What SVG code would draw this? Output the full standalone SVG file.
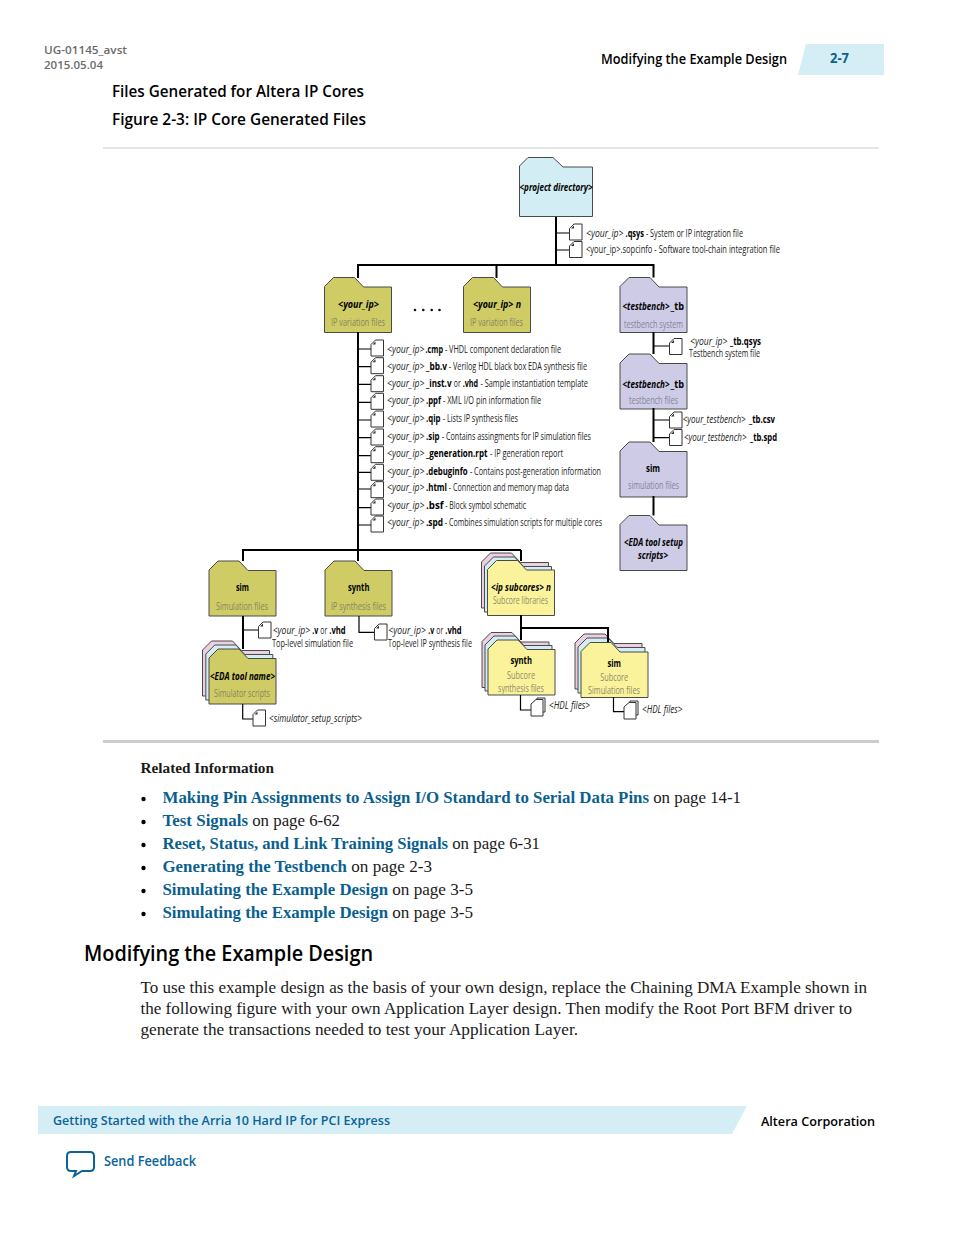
<svg xmlns="http://www.w3.org/2000/svg" xmlns:xlink="http://www.w3.org/1999/xlink" width="954" height="1235" viewBox="0 0 954 1235">
<style>
text{font-family:"Open Sans","Noto Sans",sans-serif;fill:#111;white-space:pre}
.s{font-family:"Liberation Serif","Times New Roman",serif;font-size:16px;fill:#1a1a1a}
.lk{fill:#0a5f8f;font-weight:700}
.h{font-weight:600;font-size:15px;fill:#000}
.d{font-size:10px;fill:#222}
.i{font-style:italic}
.b{font-weight:700;fill:#000}
.n{font-size:10.500px;font-weight:700;fill:#000;text-anchor:middle}
.g{font-size:10px;text-anchor:middle}
.p{fill:#85849c}
.y{fill:#86855f}
.w{fill:#8e8c66}
.fo{stroke:#4a4a4a;stroke-width:1}
.ol{fill:#cfcc66}
.pu{fill:#cdcbe5}
.lb{fill:#d3edf4}
.ye{fill:#fbf39c}
.pk{fill:#eccfe0}
.file{fill:#fff;stroke:#333;stroke-width:1}
.c1{fill:none;stroke:#000;stroke-width:2}
.c2{fill:none;stroke:#000;stroke-width:1.200}
</style>
<defs>
<path id="f" d="M0,9 L9,0 H30 L39,9.500 H67 V55 H0Z"/>
<g id="doc"><path class="file" d="M4.500,0 H12.500 V16 H0 V4.500Z"/><path d="M1.500,4.500 L4.500,1.500 V4.500Z" fill="#333"/></g>
<g id="docs"><path class="file" d="M6,0 H14 V14 H6Z"/><path class="file" d="M5,1.500 H12 V18 H0 V6Z"/></g>
</defs>
<g id="page-header">
<text x="44" y="54" style="font-size:11px;font-weight:600;fill:#6b6b6b" textLength="83" lengthAdjust="spacingAndGlyphs">UG-01145_avst</text>
<text x="44" y="69" style="font-size:11px;font-weight:600;fill:#6b6b6b" textLength="59" lengthAdjust="spacingAndGlyphs">2015.05.04</text>
<text x="601" y="64" class="h" style="font-size:13.500px" textLength="186" lengthAdjust="spacingAndGlyphs">Modifying the Example Design</text>
<polygon points="798,75 806,44 884,44 884,75" fill="#d5edf5"/>
<text x="830" y="63" style="font-size:13.500px;font-weight:700;fill:#0a5f8f" textLength="19" lengthAdjust="spacingAndGlyphs">2-7</text>
<text x="112" y="97" class="h" style="font-size:16.500px" textLength="252" lengthAdjust="spacingAndGlyphs">Files Generated for Altera IP Cores</text>
<text x="112" y="125" class="h" style="font-size:16.500px" textLength="254" lengthAdjust="spacingAndGlyphs">Figure 2-3: IP Core Generated Files</text>
<rect x="103" y="147.500" width="776" height="1" fill="#ccc"/>
<rect x="103" y="740" width="776" height="3" fill="#ccc"/>
</g>
<g id="n-project"><path class="lb fo" d="M519.500,166 L528,157.500 H553 L563,167 H592.500 V216.500 H519.500Z"/>
<text class="n i" x="556" y="191" textLength="73" lengthAdjust="spacingAndGlyphs">&lt;project directory&gt;</text></g>
<g id="n-your-ip"><use href="#f" x="324.500" y="277.500" class="ol fo"/>
<text class="n i" x="358.500" y="308" textLength="41" lengthAdjust="spacingAndGlyphs">&lt;your_ip&gt;</text>
<text class="g y" x="358" y="326" textLength="54" lengthAdjust="spacingAndGlyphs">IP variation files</text></g>
<g id="n-your-ip-n"><use href="#f" x="463.500" y="277.500" class="ol fo"/>
<text class="n i" x="497" y="308" textLength="48" lengthAdjust="spacingAndGlyphs">&lt;your_ip&gt; n</text>
<text class="g y" x="496.500" y="326" textLength="53" lengthAdjust="spacingAndGlyphs">IP variation files</text></g>
<g id="dots" fill="#111"><circle cx="415" cy="310" r="1.300"/><circle cx="423.300" cy="310" r="1.300"/><circle cx="431.700" cy="310" r="1.300"/><circle cx="439.500" cy="310" r="1.300"/></g>
<g id="n-tb-system"><use href="#f" x="620" y="277.500" class="pu fo"/>
<text class="n" style="text-anchor:start" y="310"><tspan class="i" x="622.500" textLength="47" lengthAdjust="spacingAndGlyphs">&lt;testbench&gt;</tspan><tspan x="670.500" textLength="13.500" lengthAdjust="spacingAndGlyphs">_tb</tspan></text>
<text class="g p" x="653.500" y="328" textLength="59" lengthAdjust="spacingAndGlyphs">testbench system</text></g>
<g id="n-tb-files"><use href="#f" x="620" y="354" class="pu fo"/>
<text class="n" style="text-anchor:start" y="388"><tspan class="i" x="622.500" textLength="47" lengthAdjust="spacingAndGlyphs">&lt;testbench&gt;</tspan><tspan x="670.500" textLength="13.500" lengthAdjust="spacingAndGlyphs">_tb</tspan></text>
<text class="g p" x="653.500" y="404" textLength="49" lengthAdjust="spacingAndGlyphs">testbench files</text></g>
<g id="n-tb-sim"><use href="#f" x="620" y="442" class="pu fo"/>
<text class="n" x="653" y="472" textLength="14" lengthAdjust="spacingAndGlyphs">sim</text>
<text class="g p" x="653.500" y="489" textLength="51" lengthAdjust="spacingAndGlyphs">simulation files</text></g>
<g id="n-tb-eda"><use href="#f" x="620" y="515.500" class="pu fo"/>
<text class="n i" x="653.500" y="546" textLength="59" lengthAdjust="spacingAndGlyphs">&lt;EDA tool setup</text>
<text class="n i" x="653" y="559" textLength="30" lengthAdjust="spacingAndGlyphs">scripts&gt;</text></g>
<g id="n-sim"><use href="#f" x="209" y="561" class="ol fo"/>
<text class="n" x="242.500" y="591" textLength="13" lengthAdjust="spacingAndGlyphs">sim</text>
<text class="g y" x="242" y="610" textLength="52" lengthAdjust="spacingAndGlyphs">Simulation files</text></g>
<g id="n-synth"><use href="#f" x="325" y="561" class="ol fo"/>
<text class="n" x="358.700" y="591" textLength="21.500" lengthAdjust="spacingAndGlyphs">synth</text>
<text class="g y" x="358.500" y="610" textLength="55" lengthAdjust="spacingAndGlyphs">IP synthesis files</text></g>
<g id="n-eda-name"><use href="#f" x="202.500" y="641" class="pk fo"/><use href="#f" x="205.800" y="645" class="lb fo"/><use href="#f" x="209" y="649" class="ol fo"/>
<text class="n i" x="242.500" y="680" textLength="65" lengthAdjust="spacingAndGlyphs">&lt;EDA tool name&gt;</text>
<text class="g y" x="242" y="697" textLength="56" lengthAdjust="spacingAndGlyphs">Simulator scripts</text></g>
<g id="n-subcores"><use href="#f" x="481.500" y="553" class="pk fo"/><use href="#f" x="484.500" y="557" class="lb fo"/><use href="#f" x="487.500" y="560.500" class="ye fo"/>
<text class="n i" x="521" y="591" textLength="60" lengthAdjust="spacingAndGlyphs">&lt;ip subcores&gt; n</text>
<text class="g w" x="520.500" y="604" textLength="55" lengthAdjust="spacingAndGlyphs">Subcore libraries</text></g>
<g id="n-sub-synth"><use href="#f" x="482" y="632.500" class="pk fo"/><use href="#f" x="485" y="636" class="lb fo"/><use href="#f" x="488" y="640" class="ye fo"/>
<text class="n" x="521.200" y="664" textLength="21.500" lengthAdjust="spacingAndGlyphs">synth</text>
<text class="g w" x="521" y="679" textLength="28" lengthAdjust="spacingAndGlyphs">Subcore</text>
<text class="g w" x="521" y="692" textLength="46" lengthAdjust="spacingAndGlyphs">synthesis files</text></g>
<g id="n-sub-sim"><use href="#f" x="575" y="634" class="pk fo"/><use href="#f" x="578" y="638" class="lb fo"/><use href="#f" x="581" y="642.500" class="ye fo"/>
<text class="n" x="614.200" y="667" textLength="13.500" lengthAdjust="spacingAndGlyphs">sim</text>
<text class="g w" x="614.200" y="681" textLength="28" lengthAdjust="spacingAndGlyphs">Subcore</text>
<text class="g w" x="614" y="694" textLength="52" lengthAdjust="spacingAndGlyphs">Simulation files</text></g>
<g id="connectors">
<path class="c1" d="M556,217V265M358,278V265H653.500V277.500M496.500,265V278M653.500,332V354M653.500,408V442M653.500,496V515.500"/>
<path class="c1" d="M358,332V561M243,561V550H521M243,616V649M521,550V561M521,615V640M521,628H608V642"/>
<path class="c2" d="M556,233H570M556,250H570M653,346H669M653,420H669.500M653,437.700H669.500"/>
<path class="c2" d="M358,349H371M358,366.700H371M358,384.300H371M358,402.300H371M358,420H371M358,437.700H371M358,455.700H371M358,472.300H371M358,489H371M358,507.700H371M358,525H371"/>
<path class="c2" d="M243,630H258.500M359,616V632.300H374.500M242.700,704V719H253M520.500,695V710H531M613.500,697V711.700H624"/>
</g>
<g id="files">
<use href="#doc" x="569.500" y="224"/><use href="#doc" x="569.500" y="241.500"/>
<use href="#doc" x="669.500" y="338.500"/><use href="#doc" x="669.500" y="412"/><use href="#doc" x="669.500" y="429.500"/>
<use href="#doc" x="371" y="340"/><use href="#doc" x="371" y="357.700"/><use href="#doc" x="371" y="375.700"/><use href="#doc" x="371" y="393.300"/><use href="#doc" x="371" y="411"/><use href="#doc" x="371" y="429"/><use href="#doc" x="371" y="446.700"/><use href="#doc" x="371" y="464.300"/><use href="#doc" x="371" y="481.700"/><use href="#doc" x="371" y="499"/><use href="#doc" x="371" y="516"/>
<use href="#doc" x="258.500" y="622"/><use href="#doc" x="374.500" y="624"/><use href="#doc" x="253" y="710"/>
<use href="#docs" x="531" y="698"/><use href="#docs" x="624" y="701"/>
</g>
<g id="file-labels">
<text class="d" y="237"><tspan class="i" x="586" textLength="37.500" lengthAdjust="spacingAndGlyphs">&lt;your_ip&gt;</tspan><tspan class="b" x="625.500" textLength="18.500" lengthAdjust="spacingAndGlyphs">.qsys</tspan><tspan x="644" textLength="99" lengthAdjust="spacingAndGlyphs"> - System or IP integration file</tspan></text>
<text class="d" x="586" y="253" textLength="194" lengthAdjust="spacingAndGlyphs">&lt;your_ip&gt;.sopcinfo - Software tool-chain integration file</text>
<text class="d" y="345"><tspan class="i" x="690" textLength="37.500" lengthAdjust="spacingAndGlyphs">&lt;your_ip&gt;</tspan><tspan class="b" x="730" textLength="31" lengthAdjust="spacingAndGlyphs">_tb.qsys</tspan></text>
<text class="d" x="689" y="357" textLength="71" lengthAdjust="spacingAndGlyphs">Testbench system file</text>
<text class="d" y="423"><tspan class="i" x="682.700" textLength="63" lengthAdjust="spacingAndGlyphs">&lt;your_testbench&gt;</tspan><tspan class="b" x="749" textLength="26" lengthAdjust="spacingAndGlyphs">_tb.csv</tspan></text>
<text class="d" y="441"><tspan class="i" x="684" textLength="62.500" lengthAdjust="spacingAndGlyphs">&lt;your_testbench&gt;</tspan><tspan class="b" x="750" textLength="27" lengthAdjust="spacingAndGlyphs">_tb.spd</tspan></text>
<text class="d" y="353"><tspan class="i" x="387" textLength="37.500" lengthAdjust="spacingAndGlyphs">&lt;your_ip&gt;</tspan><tspan class="b" x="425.500" textLength="17.500" lengthAdjust="spacingAndGlyphs">.cmp</tspan><tspan x="443" textLength="118" lengthAdjust="spacingAndGlyphs"> - VHDL component declaration file</tspan></text>
<text class="d" y="369.500"><tspan class="i" x="387" textLength="37.500" lengthAdjust="spacingAndGlyphs">&lt;your_ip&gt;</tspan><tspan class="b" x="426" textLength="21" lengthAdjust="spacingAndGlyphs">_bb.v</tspan><tspan x="447" textLength="140" lengthAdjust="spacingAndGlyphs"> - Verilog HDL black box EDA synthesis file</tspan></text>
<text class="d" y="387"><tspan class="i" x="387" textLength="37.500" lengthAdjust="spacingAndGlyphs">&lt;your_ip&gt;</tspan><tspan class="b" x="426" textLength="25.500" lengthAdjust="spacingAndGlyphs">_inst.v</tspan><tspan x="452" textLength="10.500" lengthAdjust="spacingAndGlyphs"> or </tspan><tspan class="b" x="462.700" textLength="15.500" lengthAdjust="spacingAndGlyphs">.vhd</tspan><tspan x="478.500" textLength="109.500" lengthAdjust="spacingAndGlyphs"> - Sample instantiation template</tspan></text>
<text class="d" y="404"><tspan class="i" x="387" textLength="37.500" lengthAdjust="spacingAndGlyphs">&lt;your_ip&gt;</tspan><tspan class="b" x="426" textLength="15" lengthAdjust="spacingAndGlyphs">.ppf</tspan><tspan x="441" textLength="100" lengthAdjust="spacingAndGlyphs"> - XML I/O pin information file</tspan></text>
<text class="d" y="422"><tspan class="i" x="387" textLength="37.500" lengthAdjust="spacingAndGlyphs">&lt;your_ip&gt;</tspan><tspan class="b" x="426" textLength="14.500" lengthAdjust="spacingAndGlyphs">.qip</tspan><tspan x="441" textLength="77" lengthAdjust="spacingAndGlyphs"> - Lists IP synthesis files</tspan></text>
<text class="d" y="440"><tspan class="i" x="387" textLength="37.500" lengthAdjust="spacingAndGlyphs">&lt;your_ip&gt;</tspan><tspan class="b" x="426" textLength="13.500" lengthAdjust="spacingAndGlyphs">.sip</tspan><tspan x="440" textLength="151" lengthAdjust="spacingAndGlyphs"> - Contains assingments for IP simulation files</tspan></text>
<text class="d" y="457"><tspan class="i" x="387" textLength="37.500" lengthAdjust="spacingAndGlyphs">&lt;your_ip&gt;</tspan><tspan class="b" x="426" textLength="61.500" lengthAdjust="spacingAndGlyphs">_generation.rpt</tspan><tspan x="488" textLength="75" lengthAdjust="spacingAndGlyphs"> - IP generation report</tspan></text>
<text class="d" y="475"><tspan class="i" x="387" textLength="37.500" lengthAdjust="spacingAndGlyphs">&lt;your_ip&gt;</tspan><tspan class="b" x="426" textLength="41.500" lengthAdjust="spacingAndGlyphs">.debuginfo</tspan><tspan x="468" textLength="133" lengthAdjust="spacingAndGlyphs"> - Contains post-generation information</tspan></text>
<text class="d" y="491"><tspan class="i" x="387" textLength="37.500" lengthAdjust="spacingAndGlyphs">&lt;your_ip&gt;</tspan><tspan class="b" x="426" textLength="21" lengthAdjust="spacingAndGlyphs">.html</tspan><tspan x="447" textLength="122" lengthAdjust="spacingAndGlyphs"> - Connection and memory map data</tspan></text>
<text class="d" y="509"><tspan class="i" x="387" textLength="37.500" lengthAdjust="spacingAndGlyphs">&lt;your_ip&gt;</tspan><tspan class="b" x="426" textLength="17.500" lengthAdjust="spacingAndGlyphs">.bsf</tspan><tspan x="443.500" textLength="82.500" lengthAdjust="spacingAndGlyphs"> - Block symbol schematic</tspan></text>
<text class="d" y="526"><tspan class="i" x="387" textLength="37.500" lengthAdjust="spacingAndGlyphs">&lt;your_ip&gt;</tspan><tspan class="b" x="426" textLength="17" lengthAdjust="spacingAndGlyphs">.spd</tspan><tspan x="443" textLength="159" lengthAdjust="spacingAndGlyphs"> - Combines simulation scripts for multiple cores</tspan></text>
<text class="d" y="634"><tspan class="i" x="272.700" textLength="37.500" lengthAdjust="spacingAndGlyphs">&lt;your_ip&gt;</tspan><tspan class="b" x="312.300" textLength="6" lengthAdjust="spacingAndGlyphs">.v</tspan><tspan x="318.500" textLength="10.500" lengthAdjust="spacingAndGlyphs"> or </tspan><tspan class="b" x="329.300" textLength="16.400" lengthAdjust="spacingAndGlyphs">.vhd</tspan></text>
<text class="d" x="272" y="647" textLength="81" lengthAdjust="spacingAndGlyphs">Top-level simulation file</text>
<text class="d" y="634"><tspan class="i" x="388.300" textLength="37.500" lengthAdjust="spacingAndGlyphs">&lt;your_ip&gt;</tspan><tspan class="b" x="428.300" textLength="6" lengthAdjust="spacingAndGlyphs">.v</tspan><tspan x="434.500" textLength="10.500" lengthAdjust="spacingAndGlyphs"> or </tspan><tspan class="b" x="445.300" textLength="16.400" lengthAdjust="spacingAndGlyphs">.vhd</tspan></text>
<text class="d" x="388" y="647" textLength="84" lengthAdjust="spacingAndGlyphs">Top-level IP synthesis file</text>
<text class="d i" x="269" y="722" textLength="93" lengthAdjust="spacingAndGlyphs">&lt;simulator_setup_scripts&gt;</text>
<text class="d i" x="549" y="709" textLength="41" lengthAdjust="spacingAndGlyphs">&lt;HDL files&gt;</text>
<text class="d i" x="642" y="713" textLength="40.500" lengthAdjust="spacingAndGlyphs">&lt;HDL files&gt;</text>
</g>
<g id="related">
<text class="s" x="140.500" y="773" style="font-size:15px;font-weight:700" textLength="133.500" lengthAdjust="spacingAndGlyphs">Related Information</text>
<g fill="#000"><circle cx="143.500" cy="799" r="2.200"/><circle cx="143.500" cy="822" r="2.200"/><circle cx="143.500" cy="845" r="2.200"/><circle cx="143.500" cy="868" r="2.200"/><circle cx="143.500" cy="891" r="2.200"/><circle cx="143.500" cy="914" r="2.200"/></g>
<text class="s" y="803"><tspan class="lk" x="162.500" textLength="486.500" lengthAdjust="spacingAndGlyphs">Making Pin Assignments to Assign I/O Standard to Serial Data Pins</tspan><tspan x="649" textLength="92" lengthAdjust="spacingAndGlyphs"> on page 14-1</tspan></text>
<text class="s" y="826"><tspan class="lk" x="162.500" textLength="85.500" lengthAdjust="spacingAndGlyphs">Test Signals</tspan><tspan x="248" textLength="92" lengthAdjust="spacingAndGlyphs"> on page 6-62</tspan></text>
<text class="s" y="849"><tspan class="lk" x="162.500" textLength="285.500" lengthAdjust="spacingAndGlyphs">Reset, Status, and Link Training Signals</tspan><tspan x="448" textLength="92" lengthAdjust="spacingAndGlyphs"> on page 6-31</tspan></text>
<text class="s" y="872"><tspan class="lk" x="162.500" textLength="184.500" lengthAdjust="spacingAndGlyphs">Generating the Testbench</tspan><tspan x="347" textLength="85" lengthAdjust="spacingAndGlyphs"> on page 2-3</tspan></text>
<text class="s" y="895"><tspan class="lk" x="162.500" textLength="225.500" lengthAdjust="spacingAndGlyphs">Simulating the Example Design</tspan><tspan x="388" textLength="85" lengthAdjust="spacingAndGlyphs"> on page 3-5</tspan></text>
<text class="s" y="918"><tspan class="lk" x="162.500" textLength="225.500" lengthAdjust="spacingAndGlyphs">Simulating the Example Design</tspan><tspan x="388" textLength="85" lengthAdjust="spacingAndGlyphs"> on page 3-5</tspan></text>
</g>
<g id="body">
<text x="84" y="961" style="font-size:21.500px;font-weight:600;fill:#000" textLength="289" lengthAdjust="spacingAndGlyphs">Modifying the Example Design</text>
<text class="s" x="140.500" y="993" textLength="726.500" lengthAdjust="spacingAndGlyphs">To use this example design as the basis of your own design, replace the Chaining DMA Example shown in</text>
<text class="s" x="140.500" y="1014" textLength="711.500" lengthAdjust="spacingAndGlyphs">the following figure with your own Application Layer design. Then modify the Root Port BFM driver to</text>
<text class="s" x="140.500" y="1035" textLength="437.500" lengthAdjust="spacingAndGlyphs">generate the transactions needed to test your Application Layer.</text>
</g>
<g id="page-footer">
<polygon points="38,1106 747,1106 732,1134 38,1134" fill="#d5edf5"/>
<text x="53" y="1125" style="font-size:13px;font-weight:600;fill:#0a6399" textLength="337" lengthAdjust="spacingAndGlyphs">Getting Started with the Arria 10 Hard IP for PCI Express</text>
<text x="761" y="1126" style="font-size:13px;font-weight:600;fill:#000" textLength="114" lengthAdjust="spacingAndGlyphs">Altera Corporation</text>
<path d="M71,1152 H90 Q94,1152 94,1156 V1167 Q94,1171 90,1171 H82 L74,1176 L76,1171 H71 Q67,1171 67,1167 V1156 Q67,1152 71,1152Z" fill="#fff" stroke="#0a6399" stroke-width="2"/>
<text x="104" y="1166" style="font-size:13.500px;font-weight:600;fill:#0a6399" textLength="92" lengthAdjust="spacingAndGlyphs">Send Feedback</text>
</g>
</svg>
